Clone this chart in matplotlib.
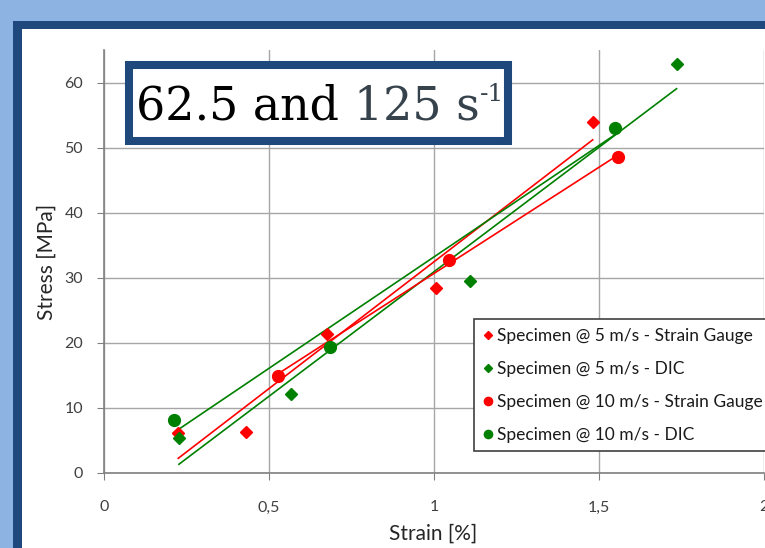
import matplotlib
matplotlib.use("Agg")
import matplotlib.pyplot as plt
import numpy as np
from matplotlib.patches import Rectangle
from matplotlib.transforms import offset_copy

plt.rcParams["font.family"] = ["Lato", "DejaVu Sans"]

W, H = 765, 548

# data (strain in %, stress in MPa)
sg5_strain = [0.225, 0.429, 0.675, 1.006, 1.481]
sg5_stress = [6.1, 6.2, 21.4, 28.4, 53.9]
dic5_strain = [0.227, 0.566, 1.109, 1.735]
dic5_stress = [5.3, 12.1, 29.5, 62.8]
sg10_strain = [0.527, 1.045, 1.559]
sg10_stress = [14.9, 32.7, 48.6]
dic10_strain = [0.211, 0.686, 1.547]
dic10_stress = [8.1, 19.4, 53.0]

labels = [
    "Specimen @ 5 m/s - Strain Gauge",
    "Specimen @ 5 m/s - DIC",
    "Specimen @ 10 m/s - Strain Gauge",
    "Specimen @ 10 m/s - DIC",
]
xticks = [0, 0.5, 1, 1.5, 2]
xtick_labels = ["0", "0,5", "1", "1,5", "2"]
yticks = [0, 10, 20, 30, 40, 50, 60]

RED = "#FF0000"
GREEN = "#008000"
NAVY = "#1F497D"
SKY = "#8DB3E2"


def fx(x):
    return x / W


def fy(y):
    return 1 - y / H


fig = plt.figure(figsize=(W / 100, H / 100), dpi=100)
fig.patch.set_facecolor(SKY)

# slide frame: dark blue border, white inside
fig.add_artist(Rectangle((fx(13), 0), 1, fy(21), transform=fig.transFigure,
                         facecolor=NAVY, edgecolor="none", zorder=-2))
fig.add_artist(Rectangle((fx(22), 0), 1, fy(29), transform=fig.transFigure,
                         facecolor="white", edgecolor="none", zorder=-1))

ax = fig.add_axes([fx(104), fy(472.7), (764 - 104) / W, (472.7 - 50) / H])
ax.set_facecolor("none")
ax.set_xlim(0, 2)
ax.set_ylim(0, 65)

ax.set_xticks(xticks)
ax.set_xticklabels(xtick_labels)
ax.set_yticks(yticks)
ax.grid(True, color="#A6A6A6", linewidth=1.0)
ax.set_axisbelow(True)
for side in ("top", "right"):
    ax.spines[side].set_visible(False)
for side in ("left", "bottom"):
    ax.spines[side].set_color("#808080")
    ax.spines[side].set_linewidth(1.2)
ax.tick_params(axis="both", direction="out", length=5, color="#808080",
               labelsize=11.5, labelcolor="#404040")
ax.tick_params(axis="x", pad=15)
ax.tick_params(axis="y", pad=10)

series = [
    (sg5_strain, sg5_stress, RED, "D", 6.5),
    (dic5_strain, dic5_stress, GREEN, "D", 6.5),
    (sg10_strain, sg10_stress, RED, "o", 8.5),
    (dic10_strain, dic10_stress, GREEN, "o", 8.5),
]
handles = []
for (xs, ys, col, mk, ms), lab in zip(series, labels):
    h, = ax.plot(xs, ys, linestyle="none", marker=mk, markersize=ms,
                 color=col, label=lab, zorder=3)
    handles.append(h)
    # linear trendline over the series' range, like Excel
    k, b = np.polyfit(xs, ys, 1)
    xx = np.array([min(xs), max(xs)])
    ax.plot(xx, k * xx + b, color=col, linewidth=1.2, zorder=2)

leg = ax.legend(handles=handles, loc="upper left",
                bbox_to_anchor=(fx(474), fy(319)), bbox_transform=fig.transFigure,
                borderaxespad=0, fancybox=False, framealpha=1,
                edgecolor="#404040", fontsize=12.5, markerscale=0.7,
                handlelength=0.6, handletextpad=0.2, labelspacing=0.98,
                borderpad=0.5)
leg.get_frame().set_linewidth(1.2)
for t in leg.get_texts():
    t.set_color("#1A1A1A")

fig.text(fx(47), fy(262), "Stress [MPa]", rotation=90, ha="center",
         va="center", fontsize=15, color="#262626")
fig.text(fx(433), fy(534), "Strain [%]", ha="center", va="center",
         fontsize=15, color="#262626")

# title box over the chart
fig.add_artist(Rectangle((fx(129), fy(141)), (508 - 129) / W, (141 - 65) / H,
                         transform=fig.transFigure, facecolor="white",
                         edgecolor=NAVY, linewidth=5.8, zorder=5))
serif = ["DejaVu Serif"]
pieces = [("62.5 and ", 33, "black", 0), ("125 s", 33, "#37434C", 0),
          ("-1", 18, "#37434C", 18)]
x_px = 136
for txt, size, col, rise in pieces:
    t = fig.text(0, 0, txt, fontsize=size, family=serif, color=col,
                 va="baseline", zorder=6,
                 transform=offset_copy(fig.transFigure, fig=fig,
                                       x=x_px * 72 / fig.dpi,
                                       y=(H - 119 + rise) * 72 / fig.dpi,
                                       units="points"))
    fig.canvas.draw()
    x_px = t.get_window_extent().x1

fig.savefig("out.png", dpi=100, facecolor=fig.get_facecolor())
